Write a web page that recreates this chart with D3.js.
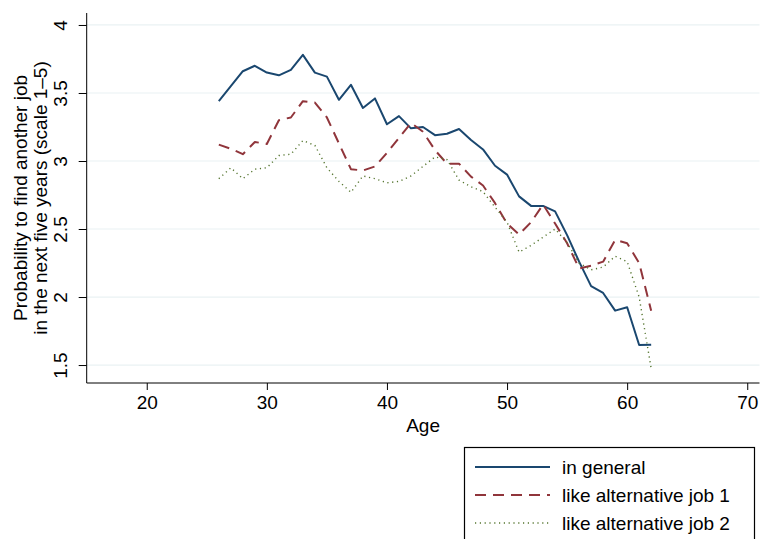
<!DOCTYPE html>
<html>
<head>
<meta charset="utf-8">
<script src="https://cdn.jsdelivr.net/npm/d3@7"></script>
<style>
  html, body { margin: 0; padding: 0; background: #fff; }
  svg { display: block; font-family: "Liberation Sans", Arial, sans-serif; }
</style>
</head>
<body>
<svg id="chart" width="762" height="539"></svg>
<script>
// Age in years
const ages = [26,27,28,29,30,31,32,33,34,35,36,37,38,39,40,41,42,43,44,45,46,47,48,49,50,51,52,53,54,55,56,57,58,59,60,61,62];

// Mean rating of the chance to find another job, by age
const inGeneral = [3.44,3.55,3.66,3.70,3.65,3.63,3.67,3.78,3.65,3.62,3.45,3.56,3.39,3.46,3.27,3.33,3.24,3.25,3.19,3.20,3.235,3.155,3.085,2.965,2.90,2.74,2.67,2.67,2.63,2.455,2.26,2.08,2.03,1.90,1.925,1.647,1.65];
const altJob1 = [3.12,3.09,3.05,3.14,3.125,3.30,3.32,3.44,3.43,3.32,3.13,2.94,2.93,2.96,3.06,3.17,3.28,3.215,3.08,2.98,2.98,2.885,2.82,2.69,2.54,2.46,2.55,2.68,2.54,2.395,2.21,2.23,2.26,2.42,2.395,2.25,1.90];
const altJob2 = [2.87,2.95,2.87,2.94,2.95,3.04,3.05,3.15,3.115,2.95,2.85,2.77,2.89,2.87,2.84,2.85,2.89,2.96,3.03,3.01,2.86,2.81,2.775,2.66,2.55,2.33,2.38,2.44,2.50,2.40,2.25,2.20,2.22,2.30,2.26,2.00,1.475];

const seriesNames = ["in general", "like alternative job 1", "like alternative job 2"];
const xTicks = [20, 30, 40, 50, 60, 70];
const yTicks = [1.5, 2, 2.5, 3, 3.5, 4];

const FONT = 19;
const svg = d3.select("#chart");
const plot = { left: 86.7, right: 759.5, top: 13, bottom: 383 };

const x = d3.scaleLinear().domain([15, 71.02]).range([plot.left, plot.right]);
const y = d3.scaleLinear().domain([1.368, 4.088]).range([plot.bottom, plot.top]);

// horizontal grid
svg.append("g")
  .selectAll("line")
  .data(yTicks)
  .join("line")
  .attr("x1", plot.left).attr("x2", plot.right)
  .attr("y1", d => y(d)).attr("y2", d => y(d))
  .attr("stroke", "#eaf2f3").attr("stroke-width", 1.2);

// y axis
const yAxis = svg.append("g")
  .attr("transform", `translate(${plot.left},0)`)
  .call(d3.axisLeft(y).tickValues(yTicks).tickSize(8).tickFormat(d3.format("")));
yAxis.select(".domain").attr("d", `M0,${plot.top}V${plot.bottom}`).attr("stroke", "#000");
yAxis.selectAll(".tick line").attr("stroke", "#000");
yAxis.selectAll(".tick text")
  .attr("x", null).attr("dy", null)
  .attr("transform", "translate(-19.5,0) rotate(-90)")
  .attr("text-anchor", "middle")
  .attr("font-size", FONT).attr("fill", "#000")
  .attr("font-family", "Liberation Sans, Arial, sans-serif");

// x axis
const xAxis = svg.append("g")
  .attr("transform", `translate(0,${plot.bottom})`)
  .call(d3.axisBottom(x).tickValues(xTicks).tickSize(7).tickFormat(d3.format("")));
xAxis.select(".domain").attr("d", `M${plot.left},0H${plot.right}`).attr("stroke", "#000");
xAxis.selectAll(".tick line").attr("stroke", "#000");
xAxis.selectAll(".tick text")
  .attr("y", 13).attr("dy", "0.71em")
  .attr("font-size", FONT).attr("fill", "#000")
  .attr("font-family", "Liberation Sans, Arial, sans-serif");

// axis titles
svg.append("text")
  .attr("x", (plot.left + plot.right) / 2).attr("y", 432)
  .attr("text-anchor", "middle").attr("font-size", FONT)
  .text("Age");

const yTitle = svg.append("text")
  .attr("transform", `translate(0,${(plot.top + plot.bottom) / 2}) rotate(-90)`)
  .attr("text-anchor", "middle").attr("font-size", FONT);
yTitle.append("tspan").attr("x", 0).attr("y", 27).text("Probability to find another job");
yTitle.append("tspan").attr("x", 0).attr("y", 47).text("in the next five years (scale 1\u20135)");

// series lines
const styles = [
  { values: inGeneral, color: "#1a476f", width: 2, dash: null },
  { values: altJob1, color: "#90353b", width: 2, dash: "11,7" },
  { values: altJob2, color: "#55752f", width: 1.4, dash: "1.2,3.6" }
];

const line = d3.line().x(d => x(d[0])).y(d => y(d[1]));

svg.append("g")
  .selectAll("path")
  .data(styles)
  .join("path")
  .attr("d", s => line(ages.map((a, i) => [a, s.values[i]])))
  .attr("fill", "none")
  .attr("stroke", s => s.color)
  .attr("stroke-width", s => s.width)
  .attr("stroke-dasharray", s => s.dash)
  .attr("stroke-linejoin", "round");

// legend
const legend = svg.append("g");
legend.append("rect")
  .attr("x", 464.5).attr("y", 447.5)
  .attr("width", 290).attr("height", 120)
  .attr("fill", "#fff").attr("stroke", "#000").attr("stroke-width", 1.2);

const rows = legend.selectAll("g.row")
  .data(styles)
  .join("g")
  .attr("class", "row")
  .attr("transform", (d, i) => `translate(0,${467 + i * 28})`);
rows.append("line")
  .attr("x1", 475).attr("x2", 550)
  .attr("stroke", d => d.color)
  .attr("stroke-width", d => d.width)
  .attr("stroke-dasharray", d => d.dash);
rows.append("text")
  .attr("x", 562).attr("y", 0).attr("dy", "0.35em")
  .attr("font-size", FONT)
  .text((d, i) => seriesNames[i]);
</script>
</body>
</html>
